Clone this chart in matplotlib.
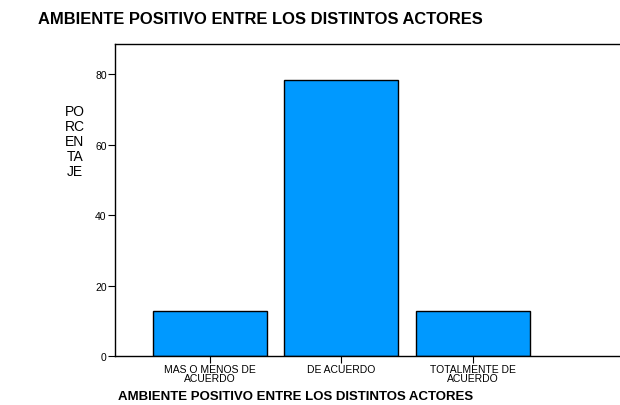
import matplotlib
matplotlib.use("Agg")
import matplotlib.pyplot as plt

categories = ["MAS O MENOS DE\nACUERDO", "DE ACUERDO", "TOTALMENTE DE\nACUERDO"]
values = [12.9, 78.4, 12.9]
yticks = [0, 20, 40, 60, 80]

plt.rcParams['font.family'] = ['Liberation Sans', 'DejaVu Sans']

fig = plt.figure(figsize=(6.2, 4.06), dpi=100)
ax = fig.add_axes([115/620, 1-357/406, 1-115/620, (357-45)/406])

x = list(range(len(categories)))
ax.bar(x, values, width=0.867, color='#0099ff', edgecolor='black', linewidth=1.0)
ax.set_xlim(-0.722, 3.12)
ax.set_ylim(0, 88.6)
ax.set_yticks(yticks)
ax.set_yticklabels([str(v) for v in yticks], fontsize=7.5)
ax.set_xticks(x)
ax.set_xticklabels(categories, fontsize=7.5, linespacing=0.85)
ax.tick_params(axis='both', length=5, width=0.8, pad=1)
ax.spines['right'].set_visible(False)
for s in ['left', 'bottom', 'top']:
    ax.spines[s].set_linewidth(1.0)

fig.text(75/620, 1-142/406, "PO\nRC\nEN\nTA\nJE", ha='center', va='center', fontsize=10, linespacing=1.1)
fig.text(38/620, 1-20/406, "AMBIENTE POSITIVO ENTRE LOS DISTINTOS ACTORES", ha='left', va='center',
         fontsize=11.9, fontweight='bold')
fig.text(118/620, 1-397/406, "AMBIENTE POSITIVO ENTRE LOS DISTINTOS ACTORES", ha='left', va='center',
         fontsize=9.5, fontweight='bold')

fig.savefig("out.png", dpi=100)
